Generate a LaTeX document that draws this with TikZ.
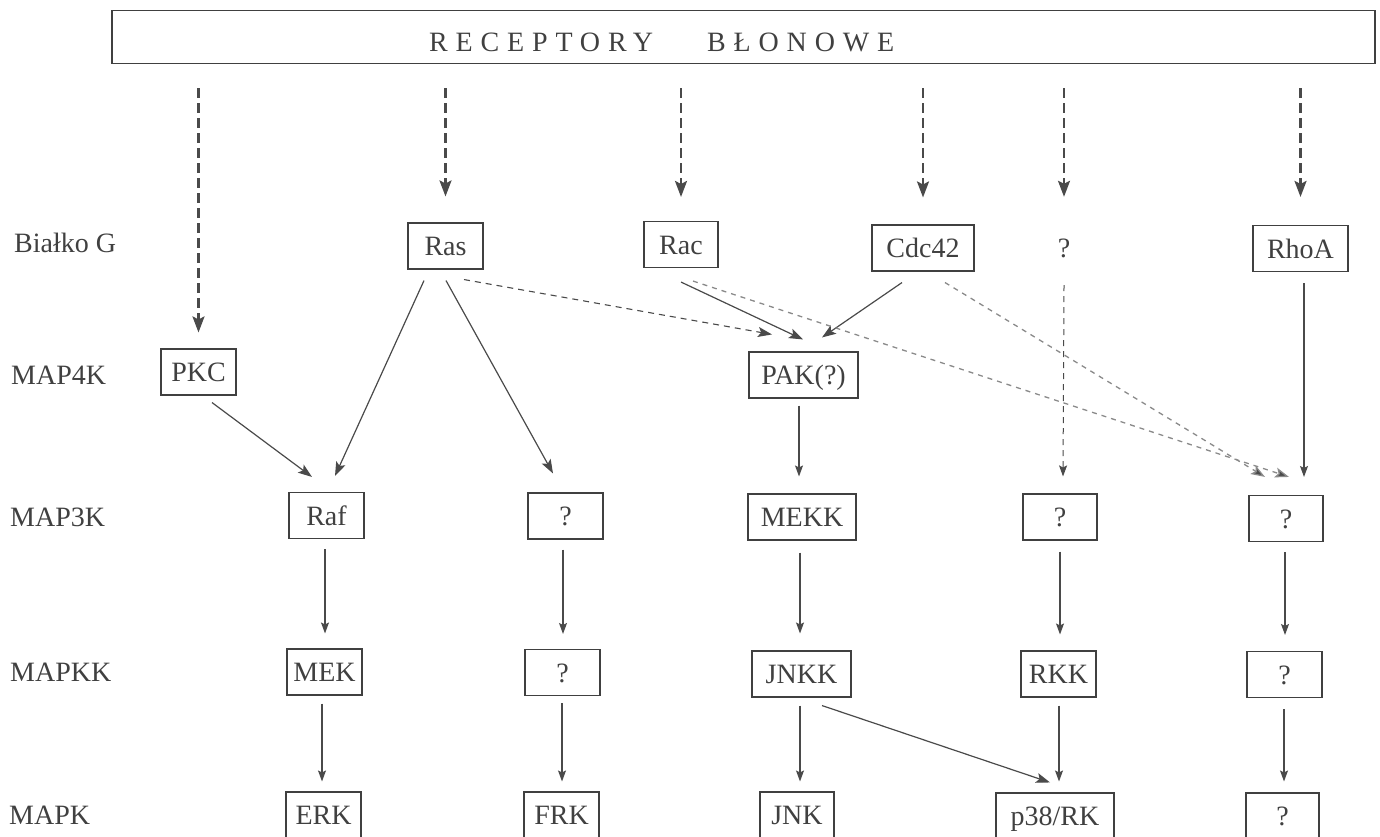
\documentclass[tikz,border=0pt]{standalone}
\usepackage{fontspec}
\setmainfont{Liberation Serif}
\usetikzlibrary{arrows.meta}
\definecolor{inkc}{HTML}{404040}
\definecolor{linec}{HTML}{4A4A4A}
\definecolor{fadec}{HTML}{8A8A8A}

\begin{document}
\begin{tikzpicture}[x=1pt,y=-1pt,
  every node/.style={font=\fontsize{28}{32}\selectfont, text=inkc},
  kbox/.style={draw=inkc, line width=1.1pt, inner sep=0pt, minimum height=46pt,
               text height=19pt, text depth=0pt},
  kfree/.style={inner sep=0pt, minimum height=46pt, text height=19pt, text depth=0pt},
  rowlabel/.style={anchor=west, inner sep=0pt},
  bararrow/.style={draw=linec, line width=2.2pt, dash pattern=on 10pt off 5pt,
                   -{Stealth[length=16pt,width=12pt,inset=3pt]}},
  solidarrow/.style={draw=linec, line width=1.1pt,
                   -{Stealth[length=11pt,width=8pt,inset=2pt]}},
  bigarrow/.style={draw=linec, line width=1.2pt,
                   -{Stealth[length=14pt,width=10pt,inset=3pt]}},
  thindash/.style={draw=linec, line width=1.1pt, dash pattern=on 6pt off 5pt,
                   -{Stealth[length=14pt,width=10pt,inset=3pt]}},
  fadedash/.style={draw=fadec, line width=1.3pt, dash pattern=on 5pt off 5pt,
                   -{Stealth[length=14pt,width=10pt,inset=3pt,fill=linec]}}
]
\useasboundingbox (0,0) rectangle (1380,837);

% membrane receptor bar
\node[draw=inkc, line width=1.1pt, minimum width=1263pt, minimum height=53pt, inner sep=0pt]
  (bar) at (743.5,37) {};
\node[anchor=west, inner sep=0pt] (rec1) at (429,42)
  {\addfontfeatures{LetterSpace=28}RECEPTORY};
\node[anchor=west, inner sep=0pt] (rec2) at (707,42)
  {\addfontfeatures{LetterSpace=28}BŁONOWE};

% row labels
\node[rowlabel] (lg)    at (14,243) {Białko G};
\node[rowlabel] (l4k)   at (11,375) {MAP4K};
\node[rowlabel] (l3k)   at (10,517) {MAP3K};
\node[rowlabel] (lkk)   at (10,672) {MAPKK};
\node[rowlabel] (lk)    at (9,815)  {MAPK};

% G proteins
\node[kbox, minimum width=75pt]  (ras)   at (445.5,246) {Ras};
\node[kbox, minimum width=74pt]  (rac)   at (681,244.5) {Rac};
\node[kbox, minimum width=102pt] (cdc)   at (923,248)   {Cdc42};
\node[kfree, minimum width=40pt] (q1)    at (1064,248)  {?};
\node[kbox, minimum width=95pt]  (rhoa)  at (1300.5,248.5) {RhoA};

% MAP4K
\node[kbox, minimum width=75pt]  (pkc)   at (198.5,372) {PKC};
\node[kbox, minimum width=109pt] (pak)   at (803.5,375) {PAK(?)};

% MAP3K
\node[kbox, minimum width=75pt]  (raf)   at (326.5,515.5) {Raf};
\node[kbox, minimum width=75pt]  (q2)    at (565.5,516) {?};
\node[kbox, minimum width=108pt] (mekk)  at (802,517) {MEKK};
\node[kbox, minimum width=74pt]  (q4)    at (1060,517) {?};
\node[kbox, minimum width=74pt]  (q5)    at (1286,518.5) {?};

% MAPKK
\node[kbox, minimum width=75pt]  (mek)   at (324.5,672) {MEK};
\node[kbox, minimum width=75pt]  (q2b)   at (562.5,672.5) {?};
\node[kbox, minimum width=99pt]  (jnkk)  at (801.5,674) {JNKK};
\node[kbox, minimum width=75pt]  (rkk)   at (1058.5,674) {RKK};
\node[kbox, minimum width=75pt]  (q5b)   at (1284.5,674.5) {?};

% MAPK
\node[kbox, minimum width=75pt]  (erk)   at (323.5,815) {ERK};
\node[kbox, minimum width=75pt]  (frk)   at (561.5,815) {FRK};
\node[kbox, minimum width=74pt]  (jnk)   at (797,815) {JNK};
\node[kbox, minimum width=118pt] (p38)   at (1055,816) {p38/RK};
\node[kbox, minimum width=73pt]  (q5c)   at (1282.5,816) {?};

% signals from the receptors
\draw[bararrow, shorten <=24pt, shorten >=16pt] (bar.south -| pkc.north) -- (pkc.north);
\draw[bararrow, shorten <=24pt, shorten >=26pt] (bar.south -| ras.north) -- (ras.north);
\draw[bararrow, shorten <=24pt, shorten >=24pt] (bar.south -| rac.north) -- (rac.north);
\draw[bararrow, shorten <=24pt, shorten >=27pt] (bar.south -| cdc.north) -- (cdc.north);
\draw[bararrow, shorten <=24pt, shorten >=28pt] (bar.south -| q1.north) -- (q1.north);
\draw[bararrow, shorten <=24pt, shorten >=28pt] (bar.south -| rhoa.north) -- (rhoa.north);

% G protein -> MAP4K / MAP3K
\draw[bigarrow] ([xshift=13.5pt,yshift=-7pt]pkc.south) -- ([xshift=-14.5pt,yshift=15pt]raf.north);
\draw[bigarrow] ([xshift=-21.5pt,yshift=-11pt]ras.south) -- ([xshift=8.5pt,yshift=16pt]raf.north);
\draw[bigarrow] ([xshift=0.5pt,yshift=-11pt]ras.south) -- ([xshift=-12.5pt,yshift=19pt]q2.north);
\draw[bigarrow] ([xshift=0pt,yshift=-14pt]rac.south) -- ([xshift=-0.5pt,yshift=12pt]pak.north);
\draw[bigarrow] ([xshift=-21pt,yshift=-11pt]cdc.south) -- ([xshift=18.5pt,yshift=14pt]pak.north);
\draw[solidarrow] ([xshift=3.5pt,yshift=-11pt]rhoa.south) -- ([xshift=18pt,yshift=18pt]q5.north);
\draw[solidarrow] ([xshift=-4.5pt,yshift=-7pt]pak.south) -- ([xshift=-3pt,yshift=17pt]mekk.north);

% dashed cross-links
\draw[thindash] ([xshift=18.5pt,yshift=-10pt]ras.south) -- ([xshift=-31.5pt,yshift=17pt]pak.north);
\draw[fadedash] ([xshift=12pt,yshift=-13pt]rac.south) -- ([xshift=3pt,yshift=18pt]q5.north);
\draw[fadedash] ([xshift=22pt,yshift=-11pt]cdc.south) -- ([xshift=-21pt,yshift=18pt]q5.north);
\draw[thindash, line width=1pt, -{Stealth[length=11pt,width=8pt,inset=2pt]}]
  ([yshift=-14pt]q1.south) -- ([xshift=3pt,yshift=17pt]q4.north);

% MAP3K -> MAPKK
\draw[solidarrow] ([xshift=-1.5pt,yshift=-10pt]raf.south) -- ([xshift=0.5pt,yshift=15pt]mek.north);
\draw[solidarrow] ([xshift=-2.5pt,yshift=-10pt]q2.south) -- ([xshift=0.5pt,yshift=15pt]q2b.north);
\draw[solidarrow] ([xshift=-2pt,yshift=-12pt]mekk.south) -- ([xshift=-1.5pt,yshift=17pt]jnkk.north);
\draw[solidarrow] ([xshift=0pt,yshift=-11pt]q4.south) -- ([xshift=1.5pt,yshift=16pt]rkk.north);
\draw[solidarrow] ([xshift=-1pt,yshift=-10pt]q5.south) -- ([xshift=0.5pt,yshift=16pt]q5b.north);

% MAPKK -> MAPK
\draw[solidarrow] ([xshift=-2.5pt,yshift=-8pt]mek.south) -- ([xshift=-1.5pt,yshift=10pt]erk.north);
\draw[solidarrow] ([xshift=-0.5pt,yshift=-7pt]q2b.south) -- ([xshift=0.5pt,yshift=10pt]frk.north);
\draw[solidarrow] ([xshift=-1.5pt,yshift=-8pt]jnkk.south) -- ([xshift=3pt,yshift=10pt]jnk.north);
\draw[bigarrow] ([xshift=20.5pt,yshift=-8pt]jnkk.south) -- ([xshift=-5pt,yshift=10pt]p38.north);
\draw[solidarrow] ([xshift=0.5pt,yshift=-8pt]rkk.south) -- ([xshift=4pt,yshift=11pt]p38.north);
\draw[solidarrow] ([xshift=-0.5pt,yshift=-11pt]q5b.south) -- ([xshift=1.5pt,yshift=11pt]q5c.north);
\end{tikzpicture}
\end{document}
